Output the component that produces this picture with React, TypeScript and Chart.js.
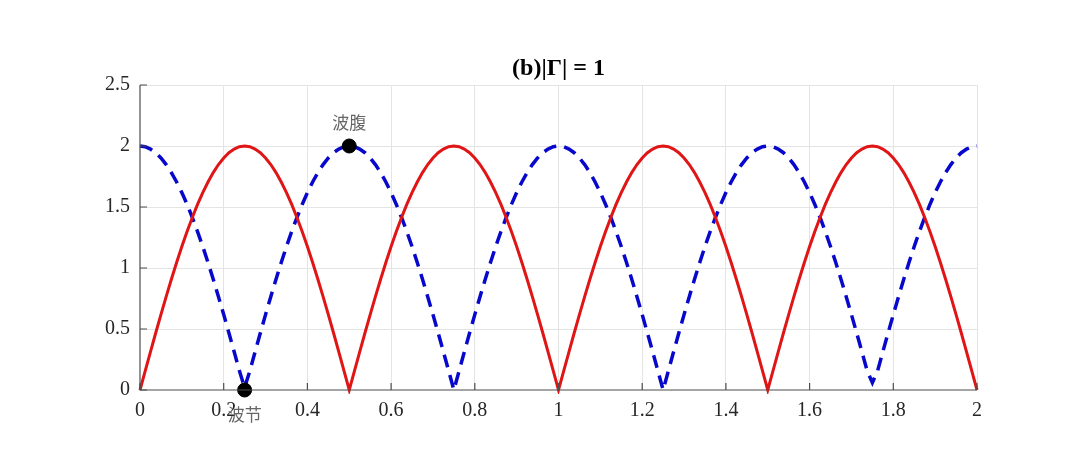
import React, { useEffect, useRef } from "react";
import { Chart, registerables } from "chart.js";

Chart.register(...registerables);

const titleText = "(b)|Γ| = 1";

const xValues = [
  0, 0.0125, 0.025, 0.0375, 0.05, 0.0625, 0.075, 0.0875,
  0.1, 0.1125, 0.125, 0.1375, 0.15, 0.1625, 0.175, 0.1875,
  0.2, 0.2125, 0.225, 0.2375, 0.25, 0.2625, 0.275, 0.2875,
  0.3, 0.3125, 0.325, 0.3375, 0.35, 0.3625, 0.375, 0.3875,
  0.4, 0.4125, 0.425, 0.4375, 0.45, 0.4625, 0.475, 0.4875,
  0.5, 0.5125, 0.525, 0.5375, 0.55, 0.5625, 0.575, 0.5875,
  0.6, 0.6125, 0.625, 0.6375, 0.65, 0.6625, 0.675, 0.6875,
  0.7, 0.7125, 0.725, 0.7375, 0.75, 0.7625, 0.775, 0.7875,
  0.8, 0.8125, 0.825, 0.8375, 0.85, 0.8625, 0.875, 0.8875,
  0.9, 0.9125, 0.925, 0.9375, 0.95, 0.9625, 0.975, 0.9875,
  1.0, 1.0125, 1.025, 1.0375, 1.05, 1.0625, 1.075, 1.0875,
  1.1, 1.1125, 1.125, 1.1375, 1.15, 1.1625, 1.175, 1.1875,
  1.2, 1.2125, 1.225, 1.2375, 1.25, 1.2625, 1.275, 1.2875,
  1.3, 1.3125, 1.325, 1.3375, 1.35, 1.3625, 1.375, 1.3875,
  1.4, 1.4125, 1.425, 1.4375, 1.45, 1.4625, 1.475, 1.4875,
  1.5, 1.5125, 1.525, 1.5375, 1.55, 1.5625, 1.575, 1.5875,
  1.6, 1.6125, 1.625, 1.6375, 1.65, 1.6625, 1.675, 1.6875,
  1.7, 1.7125, 1.725, 1.7375, 1.75, 1.7625, 1.775, 1.7875,
  1.8, 1.8125, 1.825, 1.8375, 1.85, 1.8625, 1.875, 1.8875,
  1.9, 1.9125, 1.925, 1.9375, 1.95, 1.9625, 1.975, 1.9875,
  2.0,
];

// red solid curve
const redValues = [
  0, 0.157, 0.313, 0.467, 0.618, 0.765, 0.908, 1.045, 1.176, 1.299,
  1.414, 1.521, 1.618, 1.705, 1.782, 1.848, 1.902, 1.945, 1.975, 1.994,
  2.0, 1.994, 1.975, 1.945, 1.902, 1.848, 1.782, 1.705, 1.618, 1.521,
  1.414, 1.299, 1.176, 1.045, 0.908, 0.765, 0.618, 0.467, 0.313, 0.157,
  0, 0.157, 0.313, 0.467, 0.618, 0.765, 0.908, 1.045, 1.176, 1.299,
  1.414, 1.521, 1.618, 1.705, 1.782, 1.848, 1.902, 1.945, 1.975, 1.994,
  2.0, 1.994, 1.975, 1.945, 1.902, 1.848, 1.782, 1.705, 1.618, 1.521,
  1.414, 1.299, 1.176, 1.045, 0.908, 0.765, 0.618, 0.467, 0.313, 0.157,
  0, 0.157, 0.313, 0.467, 0.618, 0.765, 0.908, 1.045, 1.176, 1.299,
  1.414, 1.521, 1.618, 1.705, 1.782, 1.848, 1.902, 1.945, 1.975, 1.994,
  2.0, 1.994, 1.975, 1.945, 1.902, 1.848, 1.782, 1.705, 1.618, 1.521,
  1.414, 1.299, 1.176, 1.045, 0.908, 0.765, 0.618, 0.467, 0.313, 0.157,
  0, 0.157, 0.313, 0.467, 0.618, 0.765, 0.908, 1.045, 1.176, 1.299,
  1.414, 1.521, 1.618, 1.705, 1.782, 1.848, 1.902, 1.945, 1.975, 1.994,
  2.0, 1.994, 1.975, 1.945, 1.902, 1.848, 1.782, 1.705, 1.618, 1.521,
  1.414, 1.299, 1.176, 1.045, 0.908, 0.765, 0.618, 0.467, 0.313, 0.157,
  0,
];

// blue dashed curve
const blueValues = [
  2.0, 1.994, 1.975, 1.945, 1.902, 1.848, 1.782, 1.705, 1.618, 1.521,
  1.414, 1.299, 1.176, 1.045, 0.908, 0.765, 0.618, 0.467, 0.313, 0.157,
  0.02, 0.157, 0.313, 0.467, 0.618, 0.765, 0.908, 1.045, 1.176, 1.299,
  1.414, 1.521, 1.618, 1.705, 1.782, 1.848, 1.902, 1.945, 1.975, 1.994,
  2.0, 1.994, 1.975, 1.945, 1.902, 1.848, 1.782, 1.705, 1.618, 1.521,
  1.414, 1.299, 1.176, 1.045, 0.908, 0.765, 0.618, 0.467, 0.313, 0.157,
  0, 0.157, 0.313, 0.467, 0.618, 0.765, 0.908, 1.045, 1.176, 1.299,
  1.414, 1.521, 1.618, 1.705, 1.782, 1.848, 1.902, 1.945, 1.975, 1.994,
  2.0, 1.994, 1.975, 1.945, 1.902, 1.848, 1.782, 1.705, 1.618, 1.521,
  1.414, 1.299, 1.176, 1.045, 0.908, 0.765, 0.618, 0.467, 0.313, 0.157,
  0, 0.157, 0.313, 0.467, 0.618, 0.765, 0.908, 1.045, 1.176, 1.299,
  1.414, 1.521, 1.618, 1.705, 1.782, 1.848, 1.902, 1.945, 1.975, 1.994,
  2.0, 1.994, 1.975, 1.945, 1.902, 1.848, 1.782, 1.705, 1.618, 1.521,
  1.414, 1.299, 1.176, 1.045, 0.908, 0.765, 0.618, 0.467, 0.313, 0.157,
  0.06, 0.157, 0.313, 0.467, 0.618, 0.765, 0.908, 1.045, 1.176, 1.299,
  1.414, 1.521, 1.618, 1.705, 1.782, 1.848, 1.902, 1.945, 1.975, 1.994,
  2.0,
];

const xTickValues = [0, 0.2, 0.4, 0.6, 0.8, 1, 1.2, 1.4, 1.6, 1.8, 2];
const xTickLabels = ["0", "0.2", "0.4", "0.6", "0.8", "1", "1.2", "1.4", "1.6", "1.8", "2"];
const yTickValues = [0, 0.5, 1, 1.5, 2, 2.5];
const yTickLabels = ["0", "0.5", "1", "1.5", "2", "2.5"];

const markerX = [0.25, 0.5];
const markerY = [0, 2];
const markerLabels = ["波节", "波腹"];
const markerLabelSide = ["below", "above"];

const AXIS_COLOR = "#4d4d4d";
const GRID_COLOR = "#e4e4e4";
const TICK_FONT = "'Liberation Serif', 'Times New Roman', serif";

const overlayPlugin = {
  id: "overlay",
  afterDraw(chart: any) {
    const ctx = chart.ctx;
    const area = chart.chartArea;
    const xs = chart.scales.x;
    const ys = chart.scales.y;
    ctx.save();
    ctx.strokeStyle = AXIS_COLOR;
    ctx.lineWidth = 1.2;
    ctx.beginPath();
    ctx.moveTo(area.left, area.top);
    ctx.lineTo(area.left, area.bottom);
    ctx.lineTo(area.right, area.bottom);
    ctx.stroke();
    ctx.beginPath();
    xTickValues.forEach((v) => {
      const px = xs.getPixelForValue(v);
      ctx.moveTo(px, area.bottom);
      ctx.lineTo(px, area.bottom - 7);
    });
    yTickValues.forEach((v) => {
      const py = ys.getPixelForValue(v);
      ctx.moveTo(area.left, py);
      ctx.lineTo(area.left + 7, py);
    });
    ctx.stroke();
    ctx.fillStyle = "#000";
    ctx.font = "bold 24px " + TICK_FONT;
    ctx.textAlign = "center";
    ctx.textBaseline = "middle";
    ctx.fillText(titleText, (area.left + area.right) / 2, area.top - 16);
    ctx.fillStyle = "#666666";
    ctx.font = "17px 'Noto Sans CJK SC', sans-serif";
    markerX.forEach((mx, i) => {
      const px = xs.getPixelForValue(mx);
      const py = ys.getPixelForValue(markerY[i]);
      const dy = markerLabelSide[i] === "above" ? -23 : 25;
      ctx.fillText(markerLabels[i], px, py + dy);
    });
    ctx.restore();
  },
};

export default function App() {
  const canvasRef = useRef<HTMLCanvasElement | null>(null);

  useEffect(() => {
    document.body.style.margin = "0";
    const canvas = canvasRef.current;
    if (!canvas) return;
    const chart = new Chart(canvas, {
      type: "line",
      data: {
        datasets: [
          {
            type: "scatter",
            data: markerX.map((x, i) => ({ x, y: markerY[i] })),
            backgroundColor: "#000",
            borderColor: "#000",
            pointRadius: 7,
            pointHoverRadius: 7,
            clip: false,
          } as any,
          {
            data: xValues.map((x, i) => ({ x, y: redValues[i] })),
            borderColor: "#e01515",
            borderWidth: 3,
            pointRadius: 0,
            tension: 0,
            fill: false,
            clip: 4,
          },
          {
            data: xValues.map((x, i) => ({ x, y: blueValues[i] })),
            borderColor: "#0808cc",
            borderWidth: 3.5,
            borderDash: [13, 8],
            pointRadius: 0,
            tension: 0,
            fill: false,
            clip: 4,
          },
        ],
      },
      options: {
        animation: false,
        responsive: false,
        maintainAspectRatio: false,
        layout: { padding: { left: 0, right: 103, top: 85, bottom: 0 } },
        plugins: {
          legend: { display: false },
          tooltip: { enabled: false },
          title: { display: false },
        },
        scales: {
          x: {
            type: "linear",
            min: 0,
            max: 2,
            afterBuildTicks: (scale: any) => {
              scale.ticks = xTickValues.map((v) => ({ value: v }));
            },
            afterFit: (scale: any) => {
              scale.height = 69;
            },
            ticks: {
              autoSkip: false,
              maxRotation: 0,
              padding: 9,
              color: "#262626",
              font: { family: TICK_FONT, size: 20 },
              callback: (v: any) => xTickLabels[xTickValues.indexOf(Number(v))] ?? "",
            },
            grid: {
              color: (c: any) => (c.tick && c.tick.value === 0 ? "rgba(0,0,0,0)" : GRID_COLOR),
              lineWidth: 1,
              tickLength: 0,
              drawTicks: false,
            },
            border: { display: false },
          },
          y: {
            type: "linear",
            min: 0,
            max: 2.5,
            afterBuildTicks: (scale: any) => {
              scale.ticks = yTickValues.map((v) => ({ value: v }));
            },
            afterFit: (scale: any) => {
              scale.width = 140;
            },
            ticks: {
              autoSkip: false,
              padding: 10,
              color: "#262626",
              font: { family: TICK_FONT, size: 20 },
              callback: (v: any) => yTickLabels[yTickValues.indexOf(Number(v))] ?? "",
            },
            grid: {
              color: (c: any) => (c.tick && c.tick.value === 0 ? "rgba(0,0,0,0)" : GRID_COLOR),
              lineWidth: 1,
              tickLength: 0,
              drawTicks: false,
            },
            border: { display: false },
          },
        },
      },
      plugins: [overlayPlugin],
    });
    return () => chart.destroy();
  }, []);

  return (
    <div style={{ width: 1080, height: 459, background: "#fff" }}>
      <canvas ref={canvasRef} width={1080} height={459} style={{ display: "block" }} />
    </div>
  );
}
